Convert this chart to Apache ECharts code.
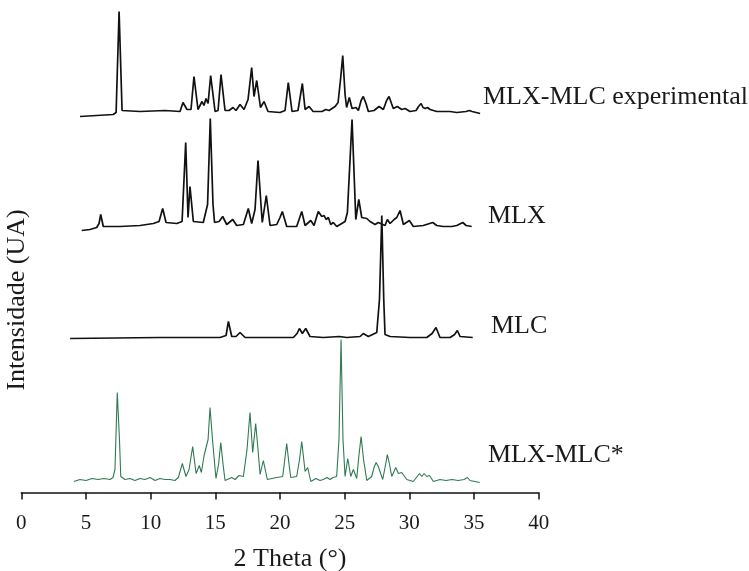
<!DOCTYPE html>
<html>
<head>
<meta charset="utf-8">
<script src="https://cdn.jsdelivr.net/npm/echarts@6/dist/echarts.min.js"></script>
<style>
html,body{margin:0;padding:0;background:#fff;}
#chart{width:749px;height:571px;}
</style>
</head>
<body>
<div id="chart"></div>
<script>
// X axis ticks (2 Theta, degrees)
const xTicks = [0, 5, 10, 15, 20, 25, 30, 35, 40];

// Series names
const seriesNames = ['MLX-MLC experimental', 'MLX', 'MLC', 'MLX-MLC*'];

// MLX-MLC experimental
const tt_exp = [4.54,7.10,7.33,7.56,7.79,9.18,11.11,12.27,12.50,12.81,13.12,13.35,13.66,13.97,14.12,14.28,14.44,14.64,14.98,15.21,15.44,15.75,16.06,16.37,16.60,16.91,17.22,17.53,17.81,17.99,18.20,18.49,18.77,19.07,20.00,20.39,20.64,20.93,21.39,21.73,21.94,22.25,22.56,23.25,23.54,23.79,24.26,24.49,24.68,24.85,25.03,25.15,25.36,25.57,25.88,26.06,26.27,26.44,26.65,26.83,27.27,27.66,27.99,28.24,28.43,28.62,28.76,29.07,29.41,29.67,30.05,30.52,30.71,30.91,31.06,31.22,31.41,31.60,32.12,32.51,33.15,33.67,34.38,34.64,34.85,35.47];
const int_exp = [-5,-3,-1,100,1,0,1,0,9,2,2,35,2,10,6,13,8,36,0,1,37,1,1,4,1,7,2,12,44,15,31,4,10,0,-1,1,29,0,1,28,2,5,0,0,2,1,5,9,32,56,17,4,14,3,4,1,11,15,8,0,1,5,2,11,15,8,3,5,2,3,0,1,5,8,4,3,4,2,0,0,0,-1,0,1,0,-2];

// MLX
const tt_mlx = [4.67,5.31,5.83,6.01,6.14,6.34,7.63,9.18,10.21,10.65,10.93,11.19,12.02,12.43,12.71,12.89,13.04,13.30,14.07,14.40,14.61,14.82,14.94,15.29,15.57,15.88,16.35,16.65,17.17,17.55,17.81,18.07,18.30,18.53,18.63,18.94,19.23,19.75,20.00,20.18,20.52,21.29,21.68,21.94,22.38,22.63,22.96,23.23,23.41,23.56,23.74,23.92,24.12,24.39,25.03,25.21,25.36,25.57,25.86,26.09,26.32,26.71,26.96,27.35,27.60,28.12,28.30,28.51,28.82,29.03,29.28,29.54,30.00,30.31,31.08,31.81,32.12,32.63,33.28,33.67,34.13,34.39,34.82];
const int_mlx = [-5,-4,-2,2,11,-1,-1,0,2,4,17,3,2,4,83,8,39,4,3,21,107,21,3,4,9,1,6,0,1,17,2,16,65,21,3,30,0,1,8,14,-1,-1,14,0,5,0,14,9,10,6,8,1,3,-1,4,13,14,106,6,26,8,7,4,1,3,0,6,2,6,8,15,1,5,-1,0,3,0,-1,-1,0,3,0,-1];

// MLC
const tt_mlc = [3.77,10.72,15.36,15.83,16.01,16.27,16.60,16.91,17.30,21.03,21.32,21.50,21.73,21.99,22.32,23.35,24.59,25.16,26.19,26.44,26.83,27.48,27.69,27.87,28.02,28.12,28.51,30.05,31.35,31.76,32.06,32.37,33.15,33.50,33.71,33.92,34.90];
const int_mlc = [-1,0,0,2,16,1,1,5,0,0,4,9,4,9,1,0,1,0,1,4,1,5,38,122,38,3,1,0,0,4,10,0,0,3,7,1,0];

// MLX-MLC* (calculated)
const tt_calc = [4.07,4.53,5.00,5.47,5.93,6.40,6.86,7.09,7.24,7.42,7.59,7.69,8.02,8.40,8.79,9.18,9.56,9.95,10.34,10.72,11.11,11.50,11.88,12.14,12.45,12.73,12.97,13.25,13.51,13.76,13.92,14.13,14.28,14.44,14.59,14.78,15.05,15.25,15.42,15.60,15.75,16.27,16.53,16.83,17.17,17.45,17.68,17.89,18.12,18.30,18.46,18.71,19.02,19.38,19.75,20.21,20.37,20.52,20.70,20.83,21.29,21.51,21.68,21.94,22.14,22.38,22.78,23.09,23.35,23.64,23.87,24.10,24.38,24.56,24.72,24.87,25.03,25.24,25.47,25.67,25.93,26.11,26.27,26.46,26.71,27.09,27.27,27.43,27.60,27.94,28.12,28.30,28.47,28.64,28.95,29.15,29.41,29.80,30.31,30.78,30.96,31.14,31.35,31.55,31.86,32.37,32.84,33.30,33.77,34.23,34.49,34.69,35.44];
const int_calc = [-2,0,-1,1,0,1,0,2,10,87,40,3,0,1,-1,1,0,2,-1,1,0,0,-1,2,16,3,10,33,6,14,7,24,22,40,72,40,1,15,37,15,-1,2,0,4,3,30,67,27,56,30,5,19,0,1,2,3,20,36,15,2,3,20,38,8,12,-2,1,-1,0,2,0,2,3,40,140,40,3,21,3,10,1,25,43,20,-1,3,12,17,13,0,12,25,15,3,12,6,7,0,-2,6,3,6,3,4,-2,0,-1,0,-1,0,2,-1,-3];

// vertical offsets used to stack the patterns
const offsets = [381, 267, 155, 13];

const FONT = '"Liberation Serif", "Times New Roman", serif';

function pairs(xs, ys, off) {
  return xs.map((x, i) => [x, ys[i] + off]);
}

const chart = echarts.init(document.getElementById('chart'), null, {renderer: 'canvas'});

const lineBase = {type: 'line', showSymbol: false, symbol: 'none', smooth: false, silent: true, animation: false};

chart.setOption({
  backgroundColor: '#ffffff',
  animation: false,
  grid: {left: 21.3, right: 210.3, top: 0, bottom: 78.5, containLabel: false, outerBoundsMode: 'none'},
  xAxis: {
    type: 'value', min: 0, max: 40, interval: 5,
    name: '2 Theta (°)', nameLocation: 'middle', nameGap: 54,
    nameTextStyle: {fontFamily: FONT, fontSize: 26, color: '#1a1a1a', padding: [0, 0, 0, 20]},
    axisLine: {show: true, lineStyle: {color: '#111', width: 1.5}},
    axisTick: {show: true, length: 7, lineStyle: {color: '#111', width: 1.5}},
    axisLabel: {fontFamily: FONT, fontSize: 21, color: '#1a1a1a', margin: 20,
      formatter: v => xTicks.includes(v) ? String(v) : ''},
    splitLine: {show: false}
  },
  yAxis: {
    type: 'value', min: 0, max: 492.5,
    axisLine: {show: false}, axisTick: {show: false}, axisLabel: {show: false}, splitLine: {show: false}
  },
  series: [
    Object.assign({}, lineBase, {name: seriesNames[0], data: pairs(tt_exp, int_exp, offsets[0]), lineStyle: {color: '#111', width: 1.7}}),
    Object.assign({}, lineBase, {name: seriesNames[1], data: pairs(tt_mlx, int_mlx, offsets[1]), lineStyle: {color: '#111', width: 1.7}}),
    Object.assign({}, lineBase, {name: seriesNames[2], data: pairs(tt_mlc, int_mlc, offsets[2]), lineStyle: {color: '#111', width: 1.7}}),
    Object.assign({}, lineBase, {name: seriesNames[3], data: pairs(tt_calc, int_calc, offsets[3]), lineStyle: {color: '#2f7a52', width: 1.1}})
  ],
  graphic: [
    {type: 'text', x: 17, y: 300, rotation: Math.PI / 2, style: {text: 'Intensidade (UA)', font: '26px ' + FONT, fill: '#1a1a1a', align: 'center', verticalAlign: 'middle'}},
    {type: 'text', x: 483, y: 97, style: {text: seriesNames[0], font: '26px ' + FONT, fill: '#1a1a1a', verticalAlign: 'middle'}},
    {type: 'text', x: 488, y: 216, style: {text: seriesNames[1], font: '26px ' + FONT, fill: '#1a1a1a', verticalAlign: 'middle'}},
    {type: 'text', x: 491, y: 326, style: {text: seriesNames[2], font: '26px ' + FONT, fill: '#1a1a1a', verticalAlign: 'middle'}},
    {type: 'text', x: 488, y: 455, style: {text: seriesNames[3], font: '26px ' + FONT, fill: '#1a1a1a', verticalAlign: 'middle'}}
  ]
});
</script>
</body>
</html>
